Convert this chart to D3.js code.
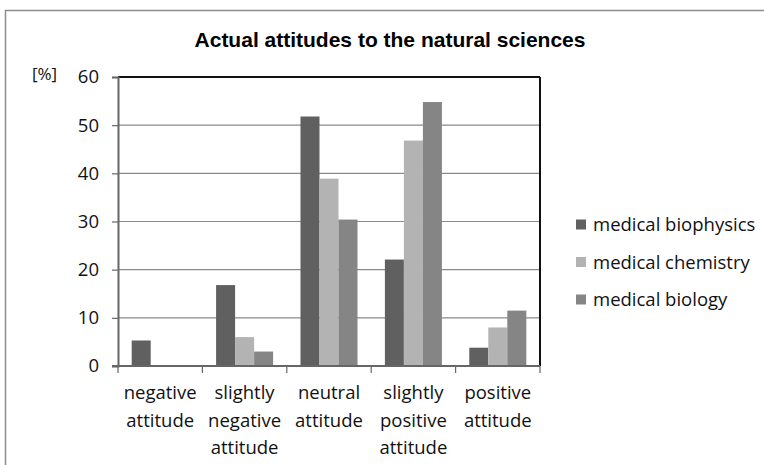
<!DOCTYPE html>
<html><head><meta charset="utf-8">
<script src="https://cdn.jsdelivr.net/npm/d3@7"></script>
<style>body{margin:0;background:#fff}svg{display:block}</style>
</head><body>
<svg id="c" width="764" height="465"></svg>
<script>
const categories = [["negative","attitude"],["slightly","negative","attitude"],["neutral","attitude"],["slightly","positive","attitude"],["positive","attitude"]];
const seriesNames = ["medical biophysics","medical chemistry","medical biology"];
const biophysics = [5.3, 16.8, 51.8, 22.1, 3.8];
const chemistry  = [0, 6.0, 38.9, 46.8, 8.0];
const biology    = [0, 3.0, 30.4, 54.8, 11.5];
const yTicks = [0,10,20,30,40,50,60];
const colors = ["#606060","#b3b3b3","#858585"];
const seriesValues = [biophysics, chemistry, biology];

const svg = d3.select("#c");
const font = "'Open Sans', sans-serif";
const fs = 18.5;
const L = 118, R = 540, T = 77, B = 366;

// outer chart border
svg.append("path").attr("d","M5.5,465 V10.5 H764").attr("fill","none").attr("stroke","#8c8c8c").attr("stroke-width",1.5);

svg.append("text").attr("x",390).attr("y",47).attr("text-anchor","middle")
  .attr("font-family","'Liberation Sans', Arial, sans-serif").attr("font-weight","bold").attr("font-size",21)
  .text("Actual attitudes to the natural sciences");

const y = d3.scaleLinear().domain([0,60]).range([B,T]);
const x0 = d3.scaleBand().domain(d3.range(categories.length)).range([L,R]);
const x1 = d3.scaleBand().domain(d3.range(3)).range([0, x0.bandwidth()]).paddingOuter(0.72);

// gridlines
svg.append("g").selectAll("line").data(yTicks.filter(t=>t>0 && t<60)).join("line")
  .attr("x1",L).attr("x2",R).attr("y1",d=>y(d)).attr("y2",d=>y(d))
  .attr("stroke","#8a8a8a").attr("stroke-width",1.2);

// bars
const g = svg.append("g");
seriesValues.forEach((vals,si)=>{
  g.selectAll(null).data(vals).join("rect")
    .attr("x",(d,i)=>x0(i)+x1(si)).attr("width",x1.bandwidth())
    .attr("y",d=>y(d)).attr("height",d=>B-y(d))
    .attr("fill",colors[si]);
});

// plot frame
svg.append("line").attr("x1",L).attr("x2",R).attr("y1",T).attr("y2",T).attr("stroke","#111").attr("stroke-width",2);
svg.append("line").attr("x1",R).attr("x2",R).attr("y1",T).attr("y2",B).attr("stroke","#111").attr("stroke-width",2);

// y axis
const yAxis = d3.axisLeft(y).tickValues(yTicks).tickSize(6).tickPadding(13);
const ya = svg.append("g").attr("transform",`translate(${L},0)`).call(yAxis);
ya.select(".domain").attr("stroke","#666").attr("stroke-width",2);
ya.selectAll(".tick line").attr("stroke","#666").attr("stroke-width",1.2);
ya.selectAll("text").attr("font-family",font).attr("font-size",fs).attr("fill","#111");

// x axis
svg.append("line").attr("x1",L-6).attr("x2",R).attr("y1",B).attr("y2",B).attr("stroke","#666").attr("stroke-width",2);
svg.append("g").selectAll("line").data(d3.range(categories.length+1)).join("line")
  .attr("x1",i=>L+i*x0.bandwidth()).attr("x2",i=>L+i*x0.bandwidth())
  .attr("y1",B).attr("y2",B+7).attr("stroke","#666").attr("stroke-width",1.2);
const cl = svg.append("g").selectAll("text").data(categories).join("text")
  .attr("x",(d,i)=>x0(i)+x0.bandwidth()/2).attr("y",399).attr("text-anchor","middle")
  .attr("font-family",font).attr("font-size",fs).attr("fill","#111");
cl.each(function(d){
  d3.select(this).selectAll("tspan").data(d).join("tspan")
    .attr("x",d3.select(this).attr("x")).attr("dy",(t,j)=>j===0?0:27.5).text(t=>t);
});

svg.append("text").attr("x",32).attr("y",80).attr("font-family",font).attr("font-size",17).attr("fill","#111").text("[%]");

// legend
const lg = svg.append("g").selectAll("g").data(seriesNames).join("g")
  .attr("transform",(d,i)=>`translate(576,${224.5+i*37.5})`);
lg.append("rect").attr("x",0).attr("y",-5).attr("width",10).attr("height",10).attr("fill",(d,i)=>colors[i]);
lg.append("text").attr("x",17).attr("y",6.5).attr("font-family",font).attr("font-size",fs).attr("fill","#111").text(d=>d);
</script>
</body></html>
